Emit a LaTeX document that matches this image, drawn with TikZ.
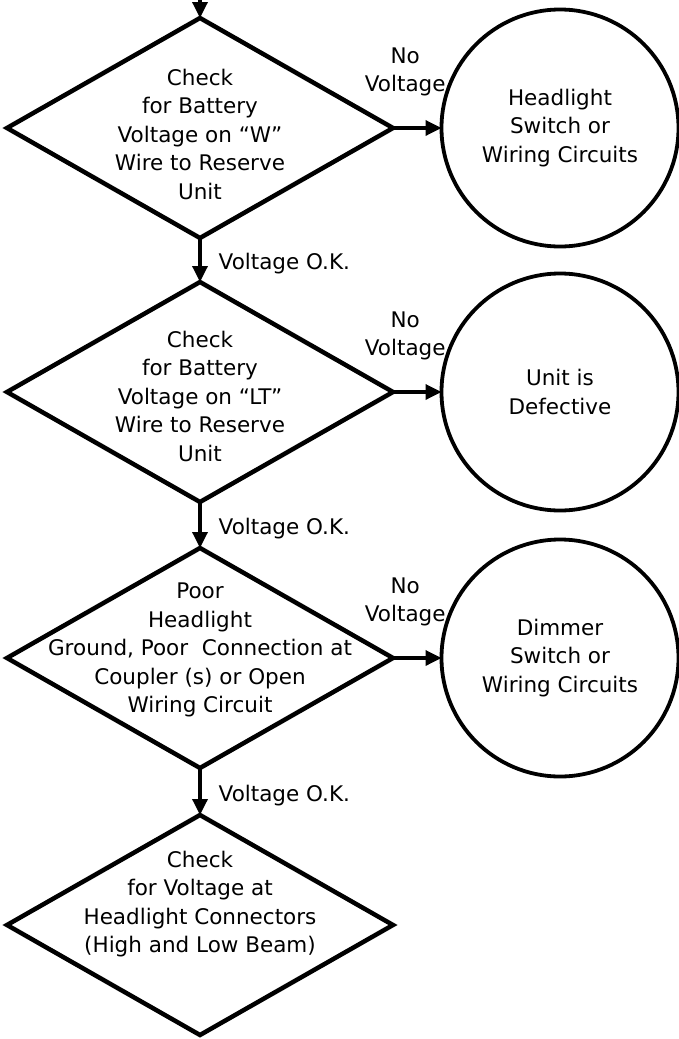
\documentclass[tikz,border=0pt]{standalone}
\usepackage{fontspec}
\setmainfont{DejaVu Sans}
\usetikzlibrary{shapes.geometric,arrows.meta,positioning}

\begin{document}
\begin{tikzpicture}[x=1pt,y=-1pt,
    decision/.style={diamond, draw, line width=4.5pt, minimum width=386pt, minimum height=220pt, inner sep=0pt, outer sep=0pt},
    result/.style={circle, draw, line width=3.8pt, minimum size=237pt, inner sep=0pt, outer sep=0pt, align=center},
    words/.style={align=center, inner sep=0pt},
    flow/.style={line width=3.4pt, -{Triangle[length=16pt,width=15pt]}},
    nolabel/.style={words, midway, above=30pt, xshift=-12pt},
    oklabel/.style={words, midway, right=17pt, yshift=-4pt},
    font=\fontsize{21.5}{28.5}\selectfont]
  \useasboundingbox (0,0) rectangle (679,1039);

  % decision boxes
  \node[decision] (d1) at (200,128) {};
  \node[decision] (d2) at (200,392) {};
  \node[decision] (d3) at (200,658) {};
  \node[decision] (d4) at (200,925) {};
  \node[words] (d1txt) at (200,134) {Check\\for Battery\\Voltage on ``W''\\Wire to Reserve\\Unit};
  \node[words] (d2txt) at (200,396) {Check\\for Battery\\Voltage on ``LT''\\Wire to Reserve\\Unit};
  \node[words] (d3txt) at (200,650) {Poor\\Headlight\\Ground, Poor~ Connection at\\Coupler (s) or Open\\Wiring Circuit};
  \node[words] (d4txt) at (200,904) {Check\\for Voltage at\\Headlight Connectors\\(High and Low Beam)};

  % results
  \node[result] (c1) at (560,128) {Headlight\\Switch or\\Wiring Circuits};
  \node[result] (c2) at (560,392) {Unit is\\Defective};
  \node[result] (c3) at (560,658) {Dimmer\\Switch or\\Wiring Circuits};

  \coordinate (start) at (200,0);
  \draw[flow] (start) -- (d1.north);
  \foreach \a/\b in {d1/d2, d2/d3, d3/d4}
    \draw[flow] (\a.south) -- node[oklabel] {Voltage O.K.} (\b.north);
  \foreach \a/\b in {d1/c1, d2/c2, d3/c3}
    \draw[flow] (\a.east) -- node[nolabel] {No\\Voltage} (\b.west);
\end{tikzpicture}
\end{document}
